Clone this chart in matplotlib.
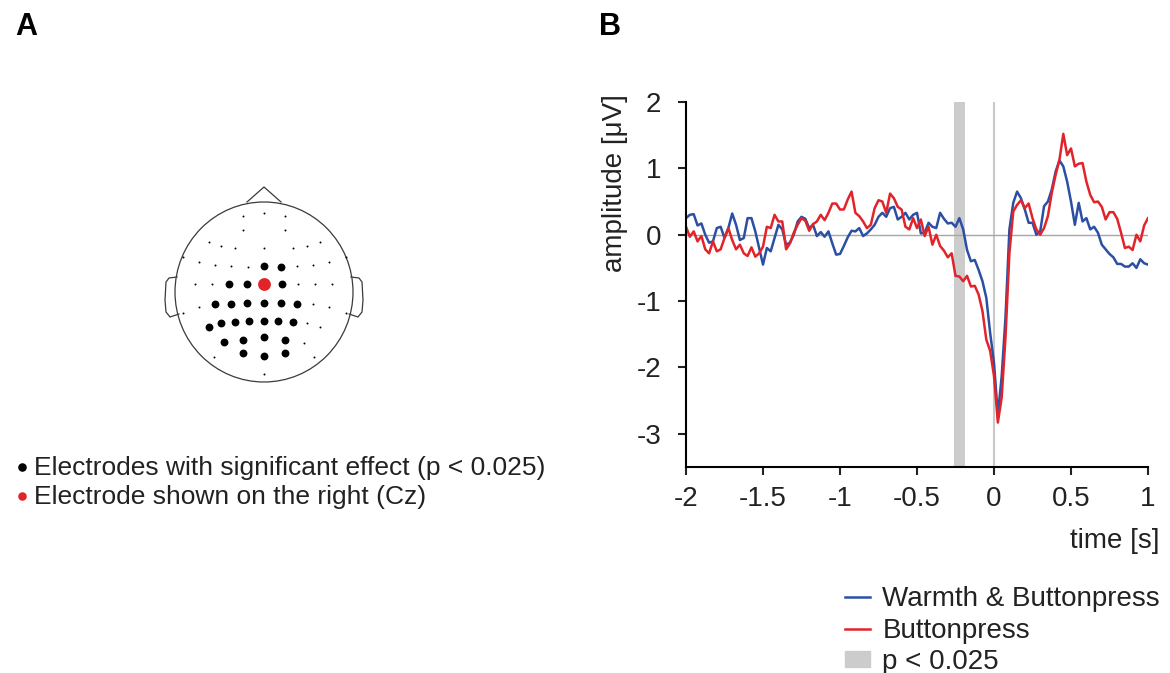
import numpy as np
import matplotlib
matplotlib.use("Agg")
from matplotlib import pyplot as plt
from matplotlib.patches import Ellipse, Patch
from matplotlib.lines import Line2D

plt.rcParams['font.family'] = ['Liberation Sans', 'DejaVu Sans']
plt.rcParams['axes.unicode_minus'] = False

# ERP at Cz, sampled every 25 ms from -2 s to 1 s
time_s = np.linspace(-2.0, 1.0, 121)
warmth_buttonpress = [
    0.25, 0.30, 0.31, 0.14, 0.17, 0.0, -0.12, -0.1, 0.1, 0.12,
    -0.05, 0.1, 0.32, 0.15, -0.08, -0.05, 0.25, 0.25, 0.05, -0.2,
    -0.45, -0.2, -0.25, -0.05, 0.15, 0.08, -0.15, -0.12, 0.0, 0.2,
    0.27, 0.24, 0.1, 0.15, -0.02, 0.04, -0.03, 0.05, -0.13, -0.3,
    -0.29, -0.17, -0.04, 0.06, 0.05, 0.1, -0.02, 0.02, 0.08, 0.15,
    0.27, 0.33, 0.27, 0.4, 0.42, 0.23, 0.27, 0.33, 0.23,
    0.3, 0.33, 0.02, 0.03, 0.18, 0.12, 0.1, 0.33, 0.24, 0.17,
    0.18, 0.12, 0.25, 0.08, -0.23, -0.4, -0.38, -0.53, -0.7, -0.95,
    -1.48, -1.93, -2.72, -2.13, -1.23, 0.08, 0.48, 0.65, 0.55, 0.38,
    0.18, 0.18, 0.0, 0.05, 0.43, 0.5, 0.68, 0.95, 1.12, 1.03,
    0.8, 0.5, 0.15, 0.48, 0.2, 0.25, 0.08, 0.12, 0.03, -0.15,
    -0.22, -0.29, -0.34, -0.44, -0.44, -0.48, -0.48, -0.43, -0.5, -0.37,
    -0.43, -0.45,
]
buttonpress = [
    0.12, -0.03, 0.05, -0.1, -0.02, -0.22, -0.28, -0.1, -0.25, -0.22,
    -0.05, 0.1, -0.08, -0.22, -0.15, -0.28, -0.32, -0.19, -0.33, -0.28,
    -0.18, 0.12, 0.1, 0.3, 0.2, 0.2, -0.22, -0.13, 0.03, 0.15,
    0.25, 0.21, 0.06, 0.16, 0.2, 0.3, 0.22, 0.33, 0.47, 0.47,
    0.38, 0.38, 0.53, 0.65, 0.33, 0.28, 0.2, 0.1, 0.15, 0.4,
    0.52, 0.5, 0.33, 0.62, 0.55, 0.42, 0.38, 0.12, 0.08,
    0.25, 0.1, 0.23, -0.02, 0.12, -0.15, 0.0, -0.17, -0.24, -0.34,
    -0.28, -0.62, -0.63, -0.7, -0.62, -0.78, -0.77, -0.9, -1.15, -1.58,
    -1.75, -2.13, -2.83, -2.45, -1.53, -0.28, 0.35, 0.45, 0.52, 0.4,
    0.47, 0.25, 0.08, 0.0, 0.1, 0.28, 0.63, 0.9, 1.13, 1.52,
    1.2, 1.3, 1.03, 1.07, 1.08, 0.8, 0.6, 0.49, 0.5, 0.42,
    0.23, 0.34, 0.34, 0.24, 0.03, -0.2, -0.18, -0.23, 0.0, -0.1,
    0.14, 0.25,
]
sig_window = (-0.26, -0.19)

# electrode positions, in head radii (x right, y toward nose)
other_x = [-0.239, 0, 0.235, -0.239, 0.235, -0.623, -0.481, -0.325, 0, 0.321,
           0.478, 0.627, -0.914, 0.918, -0.728, -0.556, -0.369, -0.183, 0.366, 0.552,
           0.731, -0.772, -0.586, 0.384, 0.578, 0.769, -0.728, 0.552, 0.731, -0.914,
           0.918, 0.478, 0.627, 0.448, -0.567, 0.563, 0]
other_y = [0.854, 0.892, 0.854, 0.694, 0.694, 0.56, 0.519, 0.496, 0.489, 0.496,
           0.519, 0.56, 0.388, 0.396, 0.332, 0.302, 0.291, 0.284, 0.295, 0.302,
           0.332, 0.086, 0.086, 0.086, 0.086, 0.086, -0.164, -0.138, -0.164, -0.231,
           -0.231, -0.351, -0.388, -0.575, -0.735, -0.735, -0.918]
sig_x = [0, 0.187, -0.388, -0.194, 0.198, -0.549, -0.369, -0.187, 0, 0.187,
         0.366, -0.623, -0.485, -0.325, -0.164, 0, 0.157, 0.321, -0.448, -0.239,
         0, 0.235, -0.239, 0, 0.235]
sig_y = [0.291, 0.276, 0.086, 0.086, 0.086, -0.138, -0.134, -0.119, -0.119, -0.119,
         -0.134, -0.388, -0.351, -0.34, -0.325, -0.321, -0.325, -0.332, -0.567, -0.537,
         -0.507, -0.537, -0.687, -0.716, -0.687]
cz_x, cz_y = [0.0], [0.086]

BLUE = '#2b50a3'
RED = '#e2232a'
TXT = '#222222'
W, H = 1170, 673

fig = plt.figure(figsize=(W / 100, H / 100), dpi=100)

# overlay in pixel coordinates for panel A and free text
ov = fig.add_axes([0, 0, 1, 1])
ov.set_xlim(0, W)
ov.set_ylim(H, 0)
ov.axis('off')

cx, cy, R = 264, 292, 89
outline = dict(color='#3a3a3a', lw=0.9)
ov.add_patch(Ellipse((cx, cy), 2 * R, 2 * R + 2, fill=False, ec='#3a3a3a', lw=0.9))
ov.plot([cx - 17, cx, cx + 17], [cy - 90, cy - 105, cy - 90], **outline)
ear = np.array([(-87, -15), (-95, -14), (-98, -10), (-99, 8), (-98, 20), (-94, 25), (-85, 22)])
ov.plot(cx + ear[:, 0], cy + ear[:, 1], **outline)
ov.plot(cx - ear[:, 0], cy + ear[:, 1], **outline)

ov.scatter(cx + np.array(other_x) * R, cy - np.array(other_y) * R, s=2, c='black', lw=0)
ov.scatter(cx + np.array(sig_x) * R, cy - np.array(sig_y) * R, s=32, c='black', lw=0)
ov.scatter(cx + np.array(cz_x) * R, cy - np.array(cz_y) * R, s=85, c=RED, lw=0)

ov.scatter([22], [467], s=38, c='black', lw=0)
ov.scatter([22], [496], s=38, c=RED, lw=0)
ov.text(34, 468, 'Electrodes with significant effect (p < 0.025)', fontsize=19, va='center', color=TXT)
ov.text(34, 497, 'Electrode shown on the right (Cz)', fontsize=19, va='center', color=TXT)

ov.text(26, 27, 'A', fontsize=22, fontweight='bold', ha='center', va='center')
ov.text(610, 27, 'B', fontsize=22, fontweight='bold', ha='center', va='center')

# panel B
ax = fig.add_axes([686 / W, 1 - 467 / H, 462 / W, 365 / H])
ax.axvspan(*sig_window, color='#cccccc', lw=0)
ax.axvline(0, color='#c8c8c8', lw=1.5)
ax.axhline(0, color='#a6a6a6', lw=1)
ax.plot(time_s, warmth_buttonpress, color=BLUE, lw=1.8, label='Warmth & Buttonpress')
ax.plot(time_s, buttonpress, color=RED, lw=1.8, label='Buttonpress')
ax.set_xlim(-2, 1)
ax.set_ylim(-3.5, 2)
ax.set_xticks([-2, -1.5, -1, -0.5, 0, 0.5, 1])
ax.set_xticklabels(['-2', '-1.5', '-1', '-0.5', '0', '0.5', '1'])
ax.set_yticks([-3, -2, -1, 0, 1, 2])
for s in ['top', 'right']:
    ax.spines[s].set_visible(False)
for s in ['left', 'bottom']:
    ax.spines[s].set_linewidth(1.5)
ax.tick_params(direction='out', length=6, width=1.5, labelsize=20, colors=TXT)
ax.tick_params(axis='x', pad=8)
ax.tick_params(axis='y', pad=12)
ax.patch.set_alpha(0)

ov.text(615, 183, 'amplitude [μV]', fontsize=20, rotation=90, ha='center', va='center', color=TXT)
ov.text(1159, 541, 'time [s]', fontsize=20, ha='right', va='center', color=TXT)

handles = [Line2D([], [], color=BLUE, lw=1.8), Line2D([], [], color=RED, lw=1.8),
           Patch(color='#cccccc')]
ax.legend(handles, ['Warmth & Buttonpress', 'Buttonpress', 'p < 0.025'],
          loc='upper left', bbox_to_anchor=(845 / W, 1 - 586 / H), bbox_transform=fig.transFigure,
          frameon=False, fontsize=20, handlelength=0.9, handleheight=0.5, handletextpad=0.45,
          borderpad=0, borderaxespad=0, labelspacing=0.2, labelcolor=TXT)

fig.savefig('out.png', dpi=100)
